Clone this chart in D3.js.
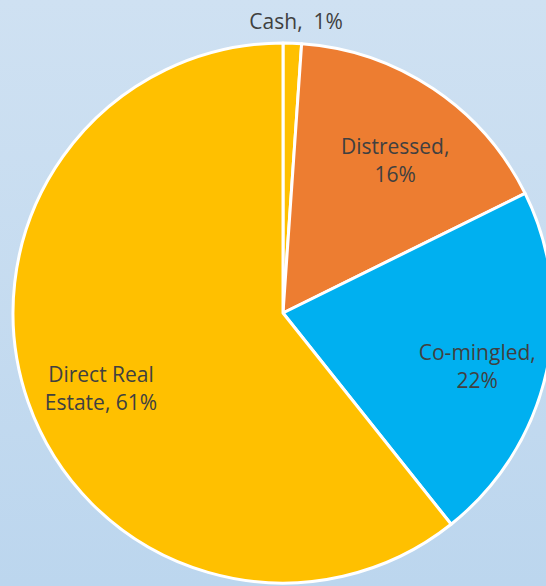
<!DOCTYPE html>
<html>
<head>
<meta charset="utf-8">
<script src="https://cdn.jsdelivr.net/npm/d3@7"></script>
<style>
  html, body { margin: 0; padding: 0; }
  body { width: 546px; height: 586px; overflow: hidden; }
</style>
</head>
<body>
<div id="chart"></div>
<script>
// slice data, clockwise from 12 o'clock
var categories = ["Cash", "Distressed", "Co-mingled", "Direct Real Estate"];
var values = [1.1, 16.6, 21.6, 60.7];
var labelLines = [["Cash,  1%"], ["Distressed,", "16%"], ["Co-mingled,", "22%"], ["Direct Real", "Estate, 61%"]];
var colors = ["#FFC000", "#ED7D31", "#00B0F0", "#FFC000"];

var width = 546;
var height = 586;
var cx = 283;
var cy = 313;
var r = 270;
var font = "'Open Sans', 'Noto Sans', sans-serif";
var fontsize = 21;
var lineH = 28;
var color_text = "#404040";

var svg = d3.select("#chart")
  .append("svg")
  .attr("width", width)
  .attr("height", height);

var defs = svg.append("defs");
var grad = defs.append("linearGradient")
  .attr("id", "bg")
  .attr("x1", 0).attr("y1", 0).attr("x2", 0).attr("y2", 1);
grad.append("stop").attr("offset", "0%").attr("stop-color", "#cfe1f2");
grad.append("stop").attr("offset", "100%").attr("stop-color", "#bcd6ee");

svg.append("rect")
  .attr("width", width)
  .attr("height", height)
  .attr("fill", "url(#bg)");

var pie = d3.pie().sort(null);
var arcs = pie(values);

var arc = d3.arc()
  .innerRadius(0)
  .outerRadius(r);

var g = svg.append("g")
  .attr("transform", "translate(" + cx + "," + cy + ")");

g.selectAll("path.slice")
  .data(arcs)
  .enter()
  .append("path")
  .attr("class", "slice")
  .attr("d", arc)
  .attr("fill", function(d, i) { return colors[i]; })
  .style("stroke", "#ffffff")
  .style("stroke-width", 3)
  .style("stroke-linejoin", "round");

// labels: inside at ~0.73r, tiny slices pushed outside
var labelArc = d3.arc().innerRadius(196).outerRadius(196);
var outArc = d3.arc().innerRadius(r + 23).outerRadius(r + 23);

var labels = g.selectAll("text.lbl")
  .data(arcs)
  .enter()
  .append("text")
  .attr("class", "lbl")
  .attr("text-anchor", "middle")
  .style("font-family", font)
  .style("font-size", fontsize + "px")
  .style("fill", color_text)
  .style("white-space", "pre")
  .attr("transform", function(d) {
    var c = d.data < 5 ? outArc.centroid(d) : labelArc.centroid(d);
    return "translate(" + (c[0] + 3) + "," + c[1] + ")";
  });

labels.each(function(d, i) {
  var lines = labelLines[i];
  var t = d3.select(this);
  lines.forEach(function(s, k) {
    t.append("tspan")
      .attr("x", 0)
      .attr("y", (k - (lines.length - 1) / 2) * lineH + (lines.length > 1 ? 18 : 9))
      .text(s);
  });
});
</script>
</body>
</html>
